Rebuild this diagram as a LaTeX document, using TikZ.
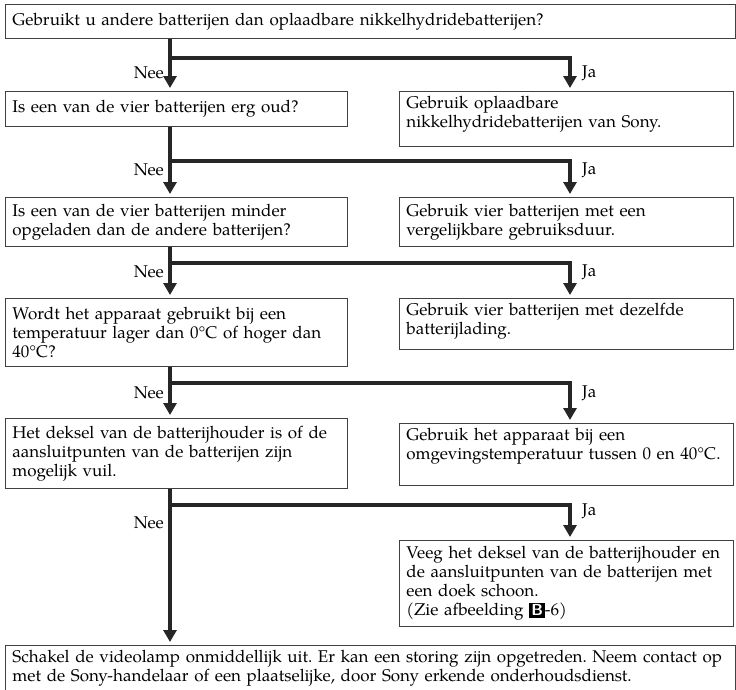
\documentclass[tikz,border=0pt]{standalone}
\usepackage{fontspec}
\setmainfont{TeX Gyre Pagella}
\usetikzlibrary{arrows.meta, positioning}
\frenchspacing

\begin{document}
\begin{tikzpicture}[x=1pt, y=-1pt,
            box/.style={draw=black!75, line width=0.8pt, anchor=north west, align=left, inner xsep=7pt, inner ysep=5pt, font=\fontsize{17}{19}\selectfont},
            qbox/.style={box, text width=328pt},
            abox/.style={box, text width=320pt},
            wide/.style={box, text width=716pt},
            lbl/.style={font=\fontsize{17}{19}\selectfont, inner sep=0pt},
            flow/.style={line width=3.2pt, black!85},
            go/.style={flow, -{Triangle[length=12pt, width=13pt]}, shorten >=3pt}
        ]
            \useasboundingbox (0,0) rectangle (736,689);

            % --- vragen (links) ---
            \node[wide, minimum height=34pt] (q1) at (5,4) {Gebruikt u andere batterijen dan oplaadbare nikkelhydridebatterijen?};
            \node[qbox, minimum height=35pt] (q2) at (5,91) {Is een van de vier batterijen erg oud?};
            \node[qbox, minimum height=49pt] (q3) at (5,197) {Is een van de vier batterijen minder\\opgeladen dan de andere batterijen?};
            \node[qbox, minimum height=68pt] (q4) at (5,298) {Wordt het apparaat gebruikt bij een\\temperatuur lager dan 0°C of hoger dan\\40°C?};
            \node[qbox, minimum height=70pt] (q5) at (5,418) {Het deksel van de batterijhouder is of de\\aansluitpunten van de batterijen zijn\\mogelijk vuil.};
            \node[wide, minimum height=42pt] (eind) at (5,645) {Schakel de videolamp onmiddellijk uit. Er kan een storing zijn opgetreden. Neem contact op\\met de Sony-handelaar of een plaatselijke, door Sony erkende onderhoudsdienst.};

            % --- oplossingen (rechts) ---
            \node[abox, text height=12pt, text depth=33pt] (a1) at (399,91) {Gebruik oplaadbare\\nikkelhydridebatterijen van Sony.};
            \node[abox, minimum height=49pt] (a2) at (399,197) {Gebruik vier batterijen met een\\vergelijkbare gebruiksduur.};
            \node[abox, text height=12pt, text depth=29pt] (a3) at (399,298) {Gebruik vier batterijen met dezelfde\\batterijlading.};
            \node[abox, text height=12pt, text depth=40pt] (a4) at (399,423) {Gebruik het apparaat bij een\\omgevingstemperatuur tussen 0 en 40°C.};
            \node[abox, minimum height=86pt] (a5) at (399,540) {Veeg het deksel van de batterijhouder en\\de aansluitpunten van de batterijen met\\een doek schoon.\\(Zie afbeelding {\setlength{\fboxsep}{2pt}\colorbox{black}{\textcolor{white}{\sffamily\bfseries\fontsize{16}{16}\selectfont B}}}-6)};

            % --- aftakkingen ---
            \coordinate (s1) at (170,58);  \coordinate (t1) at (570,58);
            \coordinate (s2) at (170,161); \coordinate (t2) at (570,161);
            \coordinate (s3) at (170,263); \coordinate (t3) at (570,263);
            \coordinate (s4) at (170,383); \coordinate (t4) at (570,383);
            \coordinate (s5) at (170,505); \coordinate (t5) at (570,505);

            % Nee: recht naar beneden
            \draw[go] (q1.south -| s1) -- (q2.north -| s1);
            \draw[go] (q2.south -| s2) -- (q3.north -| s2);
            \draw[go] (q3.south -| s3) -- (q4.north -| s3);
            \draw[go] (q4.south -| s4) -- (q5.north -| s4);
            \draw[go] (q5.south -| s5) -- (eind.north -| s5);

            % Ja: naar rechts en omlaag
            \draw[go] (s1) -- (t1) -- (a1.north -| t1);
            \draw[go] (s2) -- (t2) -- (a2.north -| t2);
            \draw[go] (s3) -- (t3) -- (a3.north -| t3);
            \draw[go] (s4) -- (t4) -- (a4.north -| t4);
            \draw[go] (s5) -- (t5) -- (a5.north -| t5);

            % --- labels ---
            \node[lbl, anchor=east] (n1) at (164,73) {Nee};
            \node[lbl, anchor=west] (j1) at (582,73) {Ja};
            \node[lbl, anchor=east] (n2) at (164,170) {Nee};
            \node[lbl, anchor=west] (j2) at (582,170) {Ja};
            \node[lbl, anchor=east] (n3) at (164,272) {Nee};
            \node[lbl, anchor=west] (j3) at (582,272) {Ja};
            \node[lbl, anchor=east] (n4) at (164,393) {Nee};
            \node[lbl, anchor=west] (j4) at (582,393) {Ja};
            \node[lbl, anchor=east] (n5) at (164,523) {Nee};
            \node[lbl, anchor=west] (j5) at (582,511) {Ja};
        \end{tikzpicture}
\end{document}
